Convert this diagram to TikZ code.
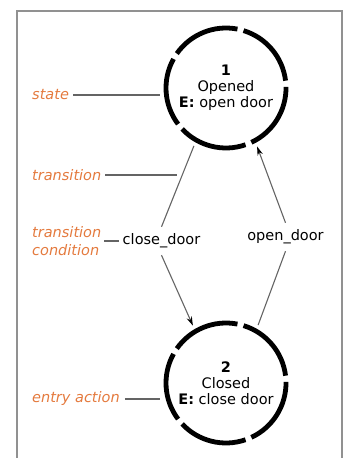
\documentclass[tikz,border=0pt]{standalone}
\usepackage{fontspec}
\setmainfont{DejaVu Sans}
\usetikzlibrary{arrows.meta,calc}
\definecolor{lbl}{RGB}{228,122,62}
\definecolor{framegray}{RGB}{145,145,145}
\definecolor{conn}{RGB}{100,100,100}
\begin{document}
\begin{tikzpicture}[x=1pt,y=1pt,
  statenode/.style={circle,minimum size=132pt,inner sep=0pt,align=center,font=\fontsize{14.5}{16}\selectfont},
  ann/.style={text=lbl,font=\fontsize{14.5}{18}\selectfont\itshape,anchor=west,inner sep=0pt,align=left},
  cond/.style={font=\fontsize{14.5}{16}\selectfont,inner sep=1pt,outer ysep=6pt},
  annline/.style={draw=conn,line width=1.5pt},
  trans/.style={draw=conn,line width=1.1pt},
  arr/.style={-{Stealth[length=9pt,width=5.5pt,color=black]}},
  ring/.style={line width=4.8pt,black}]
\useasboundingbox (0,0) rectangle (348,458);
\draw[framegray,line width=2pt] (17,447) rectangle (342,-10);

\node[statenode] (c1) at (226,370) {\textbf{1}\\Opened\\\textbf{E:} open door};
\node[statenode] (c2) at (226,75) {\textbf{2}\\Closed\\\textbf{E:} close door};
\foreach \c in {c1,c2}
  \foreach \k in {0,...,4}
    \draw[ring] ($(\c)+({7+72*\k}:60)$) arc[start angle={7+72*\k}, end angle={73+72*\k}, radius=60];

\node[cond] (cd) at (161.5,217) {close\_door};
\node[cond] (od) at (285.5,221) {open\_door};
\draw[trans] (c1.241) -- coordinate[pos=0.36] (tp) (cd.north);
\draw[trans,arr] (cd.south) -- (c2.120);
\draw[trans] (c2.61) -- (od.south);
\draw[trans,arr] (od.north) -- (c1.298);

\node[ann] (st) at (32,363) {state};
\draw[annline,shorten <=4pt] (st.east) -- (st -| c1.west);
\node[ann] (tr) at (32,283) {transition};
\draw[annline,shorten <=4pt,shorten >=5pt] (tr.east) -- (tr -| tp);
\node[ann] (tc) at (32,217) {transition\\condition};
\draw[annline,shorten <=3pt,shorten >=3pt] (tc.east) -- (cd.west);
\node[ann] (ea) at (32,59) {entry action};
\draw[annline,shorten <=5pt] (ea.east) -- (ea -| c2.west);
\end{tikzpicture}
\end{document}
